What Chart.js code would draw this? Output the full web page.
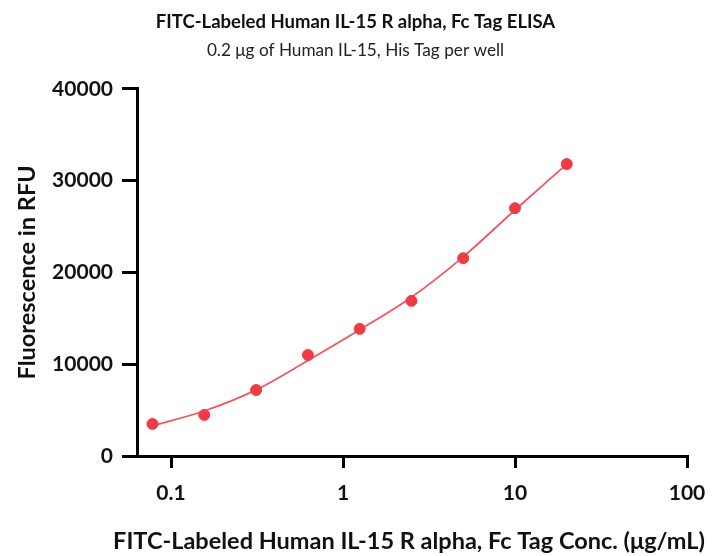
<!DOCTYPE html>
<html>
<head>
<meta charset="utf-8">
<script src="https://cdn.jsdelivr.net/npm/chart.js@4"></script>
<style>
  body { margin: 0; background: #fff; }
  #wrap { width: 714px; height: 556px; position: relative; }
</style>
</head>
<body>
<div id="wrap"><canvas id="graphCanvas"></canvas></div>
<script>
// 濃度 (µg/mL)
const conc = [0.078, 0.156, 0.3125, 0.625, 1.25, 2.5, 5, 10, 20];
// 測定値 (RFU)
const rfu = [3490, 4470, 7190, 11000, 13850, 16900, 21550, 27000, 31800];
// フィット曲線
const fitRfu = [3300, 4900, 7200, 10400, 13750, 17300, 21700, 26800, 31800];

const xTicks = [0.1, 1, 10, 100];
const yTicks = [0, 10000, 20000, 30000, 40000];

const xTitle = 'FITC-Labeled Human IL-15 R alpha, Fc Tag Conc. (μg/mL)';

const FONT = "Lato, 'Open Sans', sans-serif";

// x軸タイトル (スケール幅で縮められないように自前で描画)
const xTitlePlugin = {
    id: 'xTitle',
    afterDraw(chart) {
        const { ctx, chartArea } = chart;
        ctx.save();
        ctx.font = `bold 23.5px ${FONT}`;
        ctx.fillStyle = '#111';
        ctx.textAlign = 'center';
        ctx.textBaseline = 'middle';
        ctx.fillText(xTitle, (chartArea.left + chartArea.right) / 2 - 3, chart.height - 15);
        ctx.restore();
    }
};

const ctx = document.getElementById('graphCanvas').getContext('2d');
new Chart(ctx, {
    type: 'scatter',
    plugins: [xTitlePlugin],
    data: {
        datasets: [
            {
                label: 'data',
                data: conc.map((c, i) => ({ x: c, y: rfu[i] })),
                backgroundColor: '#EF3B44',
                borderColor: '#EF3B44',
                pointRadius: 5.5,
                pointHoverRadius: 5.5,
                order: 0
            },
            {
                label: 'fit',
                data: conc.map((c, i) => ({ x: c, y: fitRfu[i] })),
                showLine: true,
                borderColor: '#F0585E',
                borderWidth: 1.8,
                pointRadius: 0,
                cubicInterpolationMode: 'monotone',
                order: 1
            }
        ]
    },
    options: {
        responsive: true,
        maintainAspectRatio: false,
        animation: false,
        layout: { padding: { left: 0, right: 3, top: 0, bottom: 0 } },
        plugins: {
            legend: { display: false },
            tooltip: { enabled: false },
            title: {
                display: true,
                text: 'FITC-Labeled Human IL-15 R alpha, Fc Tag ELISA',
                color: '#111',
                font: { family: FONT, size: 18.5, weight: 'bold' },
                padding: { top: 11, bottom: 0 }
            },
            subtitle: {
                display: true,
                text: '0.2 μg of Human IL-15, His Tag per well',
                color: '#222',
                font: { family: FONT, size: 17.2, weight: 'normal' },
                padding: { top: 7, bottom: 28 }
            }
        },
        scales: {
            x: {
                type: 'logarithmic',
                min: 0.0634,
                max: 100,
                afterBuildTicks: (s) => { s.ticks = xTicks.map(v => ({ value: v })); },
                afterFit: (s) => { s.height = 100; s.paddingLeft = 0; s.paddingRight = 27; },
                border: { display: true, color: '#000', width: 3 },
                grid: { drawOnChartArea: false, drawTicks: true, tickLength: 12, color: '#000', lineWidth: 3 },
                ticks: {
                    color: '#111',
                    font: { family: FONT, size: 21, weight: 'bold' },
                    padding: 13,
                    maxRotation: 0,
                    callback: (v) => String(v)
                },
                title: { display: false }
            },
            y: {
                min: 0,
                max: 40000,
                afterBuildTicks: (s) => { s.ticks = yTicks.map(v => ({ value: v })); },
                afterFit: (s) => { s.width = 137; },
                border: { display: true, color: '#000', width: 3 },
                grid: { drawOnChartArea: false, drawTicks: true, tickLength: 15, color: '#000', lineWidth: 3 },
                ticks: {
                    color: '#111',
                    font: { family: FONT, size: 21, weight: 'bold' },
                    padding: 9,
                    callback: (v) => String(v)
                },
                title: {
                    display: true,
                    text: 'Fluorescence in RFU',
                    color: '#111',
                    font: { family: FONT, size: 23.5, weight: 'bold' },
                    padding: { top: 13, bottom: 0 }
                }
            }
        }
    }
});
</script>
</body>
</html>
